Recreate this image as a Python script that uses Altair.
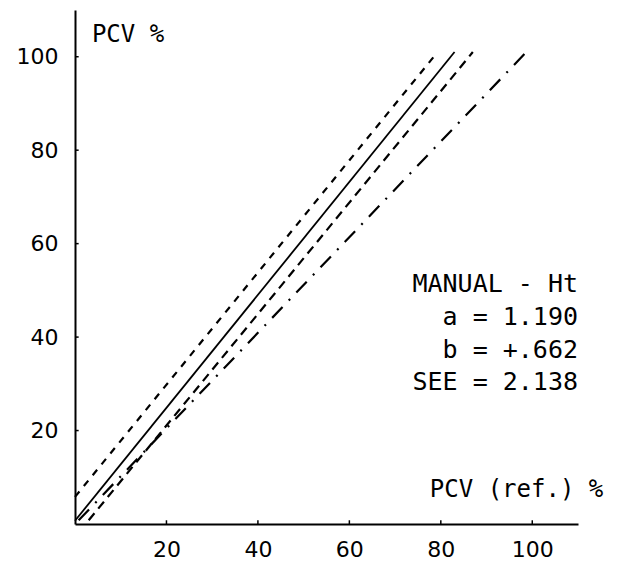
import altair as alt
import pandas as pd

# Axis ticks
tick_values = [20, 40, 60, 80, 100]

# Line endpoints (x = PCV ref, y = PCV manual)
solid_x = [0.0, 83.0]
solid_y = [0.7, 101.0]
upper_x = [0.0, 79.3]
upper_y = [5.8, 101.0]
lower_x = [3.0, 87.0]
lower_y = [0.8, 101.0]
ident_x = [0.8, 98.7]
ident_y = [0.8, 101.0]

# Annotation block
ann_text = ["MANUAL - Ht", "a = 1.190", "b = +.662", "SEE = 2.138"]
ann_x = [110.0, 110.0, 110.0, 110.0]
ann_y = [49.7, 42.6, 35.6, 28.6]

# Axis titles placed as text
title_text = ["PCV %", "PCV (ref.) %"]
title_x = [3.7, 77.6]
title_y = [103.2, 5.8]

xs = alt.Scale(domain=[0, 110], nice=False, zero=True)
ys = alt.Scale(domain=[0, 110], nice=False, zero=True)

xaxis = alt.Axis(values=tick_values, title=None, grid=False, tickSize=0,
                 labelFont="DejaVu Sans", labelFontSize=22, labelColor="black",
                 labelPadding=15, domainColor="black", domainWidth=2)
yaxis = alt.Axis(values=tick_values, title=None, grid=False, tickSize=0,
                 labelFont="DejaVu Sans", labelFontSize=22, labelColor="black",
                 labelPadding=17, domainColor="black", domainWidth=2)


def line(xv, yv, dash, width):
    df = pd.DataFrame({"x": xv, "y": yv})
    kw = dict(color="black", strokeWidth=width, clip=False)
    if dash:
        kw["strokeDash"] = dash
    return alt.Chart(df).mark_line(**kw).encode(
        x=alt.X("x:Q", scale=xs, axis=xaxis),
        y=alt.Y("y:Q", scale=ys, axis=yaxis),
    )


base = line(solid_x, solid_y, None, 1.8)
upper = line(upper_x, upper_y, [7, 7], 2.2)
lower = line(lower_x, lower_y, [9, 6], 2.2)
ident = line(ident_x, ident_y, [15, 9, 2, 9], 2.2)

# Inward tick marks
tdf = pd.DataFrame({"v": tick_values, "z": [0] * 5, "t": [0.8] * 5})
xticks = alt.Chart(tdf).mark_rule(color="black", strokeWidth=1.5).encode(
    x=alt.X("v:Q", scale=xs), y=alt.Y("z:Q", scale=ys), y2="t:Q")
yticks = alt.Chart(tdf).mark_rule(color="black", strokeWidth=1.5).encode(
    y=alt.Y("v:Q", scale=ys), x=alt.X("z:Q", scale=xs), x2="t:Q")

ann_df = pd.DataFrame({"x": ann_x, "y": ann_y, "text": ann_text})
ann = alt.Chart(ann_df).mark_text(align="right", baseline="alphabetic",
                                  font="DejaVu Sans Mono", fontSize=25,
                                  color="black").encode(
    x=alt.X("x:Q", scale=xs), y=alt.Y("y:Q", scale=ys), text="text:N")

tt_df = pd.DataFrame({"x": title_x, "y": title_y, "text": title_text})
titles = alt.Chart(tt_df).mark_text(align="left", baseline="alphabetic",
                                    font="DejaVu Sans Mono", fontSize=24,
                                    color="black").encode(
    x=alt.X("x:Q", scale=xs), y=alt.Y("y:Q", scale=ys), text="text:N")

chart = alt.layer(upper, base, lower, ident, xticks, yticks, ann, titles).properties(
    width=503, height=514,
    background="white",
    autosize=alt.AutoSizeParams(type="none"),
    padding={"left": 75, "top": 10, "right": 40, "bottom": 42},
).configure_view(strokeWidth=0, stroke=None)

chart.save("out.html", embed_options={"renderer": "svg", "actions": False})
